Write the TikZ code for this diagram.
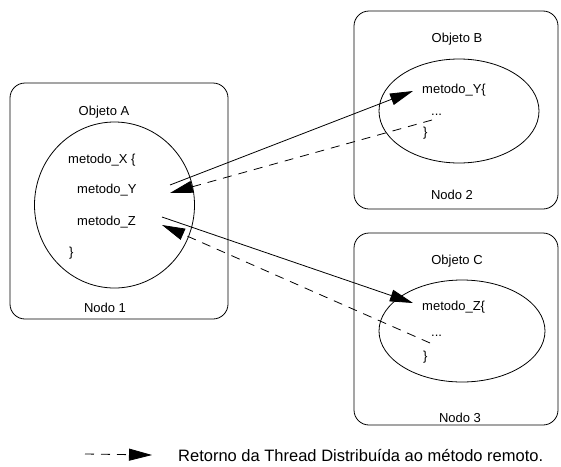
\documentclass[tikz,border=0pt]{standalone}
\usepackage{fontspec}
\setmainfont{Liberation Sans}
\usetikzlibrary{arrows.meta,shapes.geometric}

\begin{document}
\begin{tikzpicture}[x=1pt,y=-1pt]
\tikzset{nodo/.style = {shape=rectangle,draw,rounded corners=15pt,line width=0.8pt}}
\tikzset{objeto/.style = {shape=ellipse,draw,line width=0.8pt}}
\tikzset{txt/.style = {inner sep=0pt,font=\fontsize{13}{15}\selectfont}}
\tikzset{call/.style = {line width=0.8pt,-{Triangle[length=23pt,width=12pt]}}}
\tikzset{ret/.style = {call,dash pattern=on 9pt off 7pt}}
\useasboundingbox (0,0) rectangle (561,466);
% nodos
\node[nodo,minimum width=218pt,minimum height=236pt] (n1) at (119,201) {};
\node[nodo,minimum width=204pt,minimum height=198pt] (n2) at (456,110) {};
\node[nodo,minimum width=204pt,minimum height=192pt] (n3) at (456,329) {};
\node[objeto,minimum width=160pt,minimum height=166pt] (oa) at (114.5,205) {};
\node[objeto,minimum width=160pt,minimum height=104pt] (ob) at (459,111) {};
\node[objeto,minimum width=166pt,minimum height=102pt] (oc) at (462,331) {};
% textos
\node[txt] (ta) at (104,112) {Objeto A};
\node[txt,anchor=west] (ax) at (68,160) {metodo\_X \{};
\node[txt,anchor=west] (ay) at (77,190) {metodo\_Y};
\node[txt,anchor=west] (az) at (77,222) {metodo\_Z};
\node[txt,anchor=west] (ae) at (69,253) {\}};
\node[txt] (l1) at (105,308) {Nodo 1};
\node[txt] (tb) at (457,39) {Objeto B};
\node[txt,anchor=west] (by) at (422,90) {metodo\_Y\{};
\node[txt,anchor=base west] (bd) at (431,115) {...};
\node[txt,anchor=west] (be) at (423,133) {\}};
\node[txt] (l2) at (452,195) {Nodo 2};
\node[txt] (tc) at (457,261) {Objeto C};
\node[txt,anchor=west] (cz) at (422,307) {metodo\_Z\{};
\node[txt,anchor=base west] (cd) at (431,336) {...};
\node[txt,anchor=west] (ce) at (423,357) {\}};
\node[txt] (l3) at (460,418) {Nodo 3};
% pontos das setas
\coordinate (ys) at (170,185);
\coordinate (yt) at (413,91);
\coordinate (yr) at (432,120);
\coordinate (ya) at (170,193);
\coordinate (zs) at (162,217);
\coordinate (zt) at (413,303);
\coordinate (zr) at (430,343);
\coordinate (za) at (162,225);
\draw[call] (ys) to (yt);
\draw[ret] (yr) to (ya);
\draw[call] (zs) to (zt);
\draw[ret] (zr) to (za);
% legenda
\coordinate (ls) at (85,454);
\node[inner sep=0pt,anchor=west,font=\fontsize{16.5}{19}\selectfont] (leg) at (178,455) {Retorno da Thread Distribuída ao método remoto.};
\draw[ret] (ls) to ([xshift=-26pt]leg.west);
\end{tikzpicture}
\end{document}
